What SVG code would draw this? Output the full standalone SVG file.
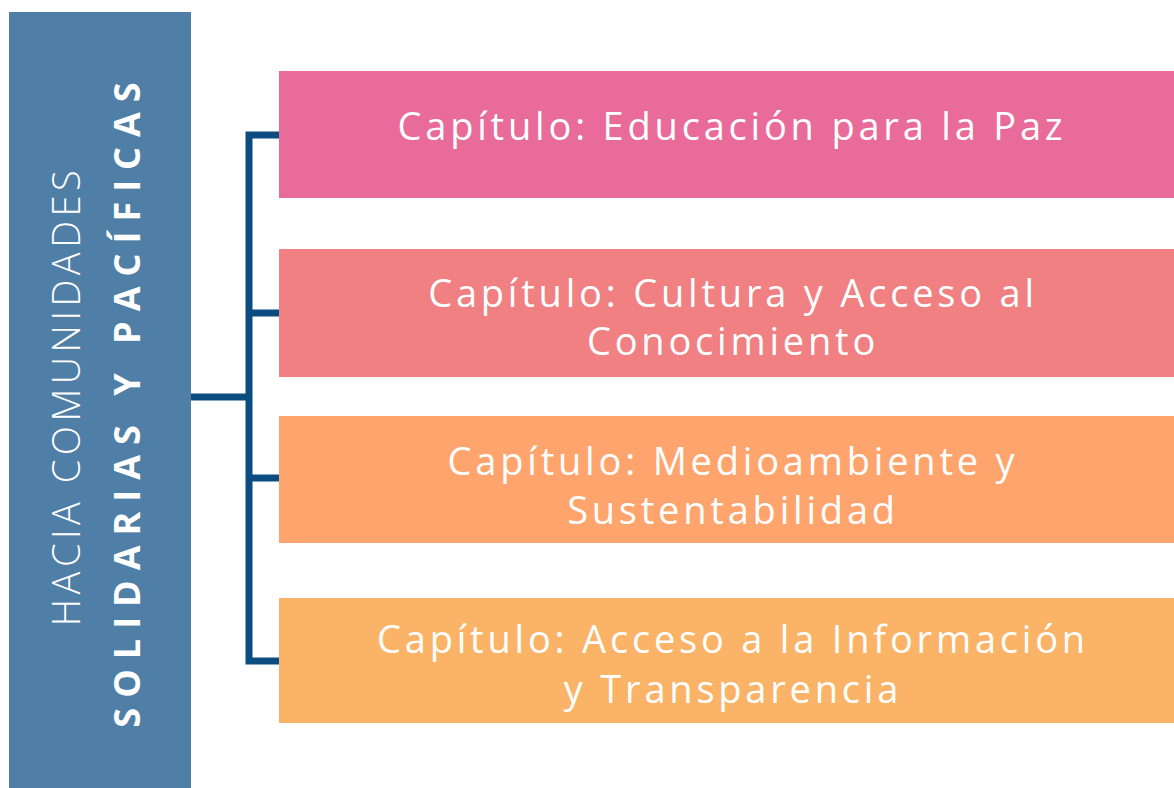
<svg xmlns="http://www.w3.org/2000/svg" width="1174" height="788" viewBox="0 0 1174 788">
<style>
.box{stroke:none}
.t{font-family:"Open Sans","Noto Sans","DejaVu Sans",sans-serif;font-size:38px;letter-spacing:3.8px;fill:#ffffff;text-anchor:middle}
.conn{fill:none;stroke:#0B4C81;stroke-width:7;stroke-linejoin:miter}
</style>
<rect width="1174" height="788" fill="#ffffff"/>
<g id="root">
<rect class="box" x="9" y="12" width="182" height="776" fill="#4F7EA7"/>
<text transform="translate(80,396) rotate(-90)" text-anchor="middle" font-family="'Open Sans','Noto Sans',sans-serif" font-size="38" font-weight="300" letter-spacing="4.5" fill="#ffffff">HACIA COMUNIDADES</text>
<text transform="translate(140,400) rotate(-90)" text-anchor="middle" font-family="'Open Sans','Noto Sans',sans-serif" font-size="36" font-weight="700" letter-spacing="10" fill="#ffffff">SOLIDARIAS Y PACÍFICAS</text>
</g>
<g id="connectors">
<path class="conn" d="M295,135 H249 V661 H295"/>
<path class="conn" d="M191,397 H249"/>
<path class="conn" d="M249,313 H295"/>
<path class="conn" d="M249,478 H295"/>
</g>
<g id="n1">
<rect class="box" x="279" y="71" width="895" height="127" fill="#E96B99"/>
<text class="t" x="732" y="140">Capítulo: Educación para la Paz</text>
</g>
<g id="n2">
<rect class="box" x="279" y="249" width="895" height="128" fill="#F08082"/>
<text class="t" x="733" y="307">Capítulo: Cultura y Acceso al</text>
<text class="t" x="733" y="355">Conocimiento</text>
</g>
<g id="n3">
<rect class="box" x="279" y="416" width="895" height="127" fill="#FFA46D"/>
<text class="t" x="733" y="475">Capítulo: Medioambiente y</text>
<text class="t" x="733" y="524">Sustentabilidad</text>
</g>
<g id="n4">
<rect class="box" x="279" y="598" width="895" height="125" fill="#FBB467"/>
<text class="t" x="733" y="653">Capítulo: Acceso a la Información</text>
<text class="t" x="733" y="703">y Transparencia</text>
</g>
</svg>
